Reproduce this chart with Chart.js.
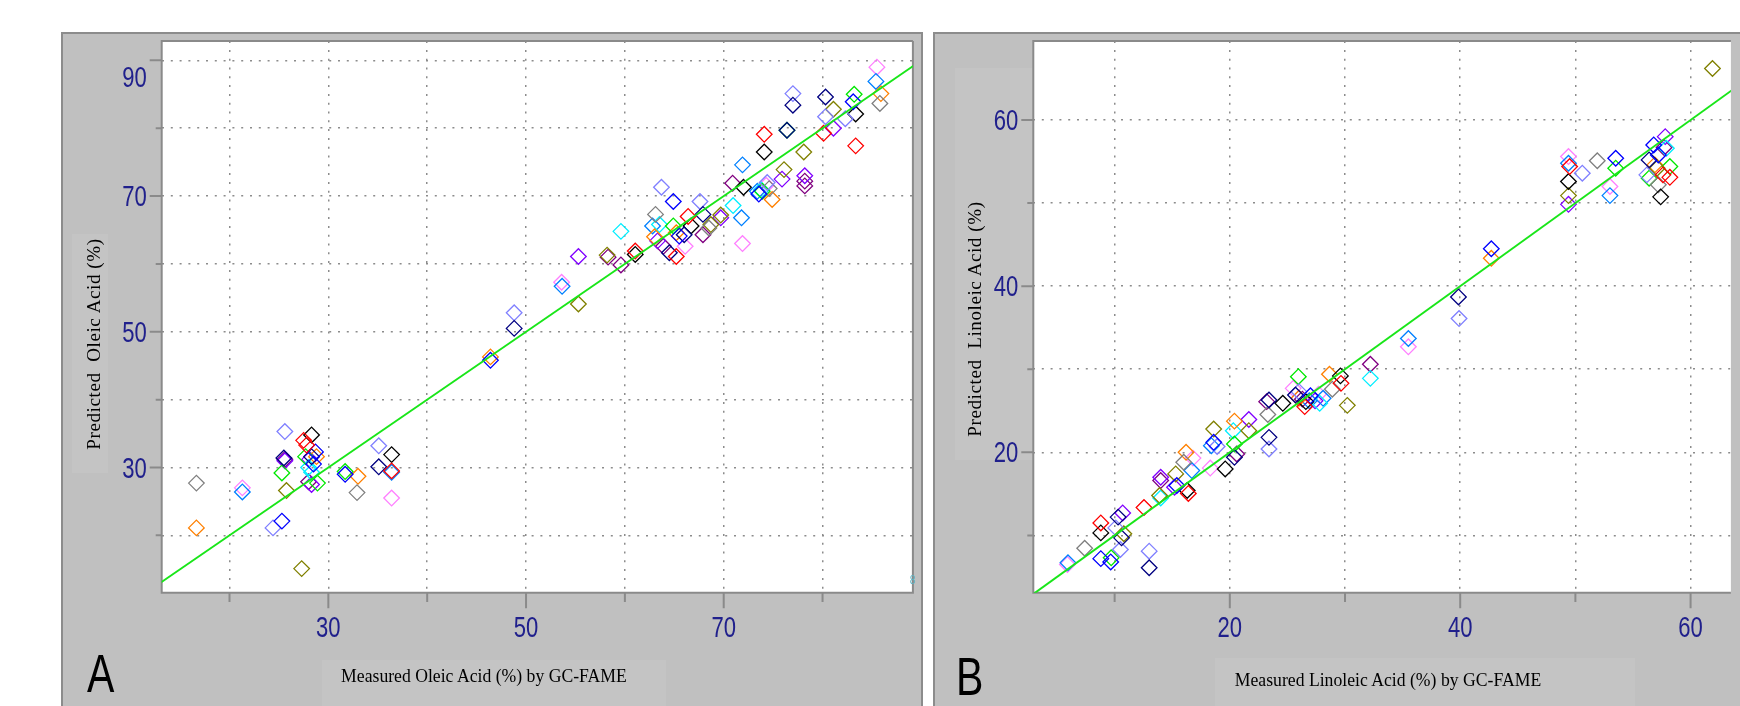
<!DOCTYPE html>
<html lang="en">
<head>
<meta charset="UTF-8">
<title>Predicted vs measured oleic and linoleic acid</title>
<script src="https://cdn.jsdelivr.net/npm/chart.js"></script>
<style>
  body { margin: 0; background: #fff; width: 1740px; height: 706px; position: relative; overflow: hidden; }
  .panel { position: absolute; background: #c0c0c0; box-sizing: border-box; border: 2px solid #8c8c8c; border-bottom: none; }
  #panelA { left: 61px; top: 32px; width: 862px; height: 674px; }
  #panelB { left: 933px; top: 32px; width: 820px; height: 674px; border-right: none; }
  .patch { position: absolute; background: #c4c4c4; }
  canvas { position: absolute; }
  #chartA { left: 61px; top: 32px; }
  #chartB { left: 933px; top: 32px; }
  .big { position: absolute; font-family: 'Liberation Sans', Arial, sans-serif; font-size: 54px; line-height: 54px; color: #000; transform: scaleX(0.76); transform-origin: left center; }
  .ttl { position: absolute; font-family: 'Liberation Serif', 'Times New Roman', serif; font-size: 19px; line-height: 20px; color: #000; white-space: nowrap; text-align: center; width: 400px; }
  .xtl { transform: scaleX(0.93); }
  .ytl { width: 300px; letter-spacing: 0.6px; transform: rotate(-90deg); }
  .tiny { position: absolute; font-family: 'Liberation Sans', sans-serif; font-size: 13px; color: #5fb3c3; transform: scaleX(0.8); }
</style>
</head>
<body>
<div class="panel" id="panelA"></div>
<div class="panel" id="panelB"></div>
<div class="patch" style="left:72px;top:234px;width:36px;height:239px"></div>
<div class="patch" style="left:322px;top:660px;width:344px;height:46px"></div>
<div class="patch" style="left:955px;top:68px;width:78px;height:392px"></div>
<div class="patch" style="left:1215px;top:658px;width:420px;height:48px"></div>

<canvas id="chartA" width="861" height="674"></canvas>
<canvas id="chartB" width="807" height="674"></canvas>

<div class="ttl ytl" style="left:-56px;top:334px">Predicted&nbsp; Oleic Acid (%)</div>
<div class="ttl ytl" style="left:825px;top:309px">Predicted&nbsp; Linoleic Acid (%)</div>
<div class="ttl xtl" style="left:284px;top:666px">Measured Oleic Acid (%) by GC-FAME</div>
<div class="ttl xtl" style="left:1188px;top:670px">Measured Linoleic Acid (%) by GC-FAME</div>
<div class="big" style="left:87px;top:646px">A</div>
<div class="big" style="left:956px;top:649px">B</div>
<div class="tiny" style="left:909px;top:572px">8</div>

<script>
// ---- panel A : oleic acid, measured (x) vs predicted (y)
const oleicRed = [[27.5, 34.0], [27.8, 33.3], [36.4, 29.5], [61.05, 61.9], [66.4, 67.0], [65.2, 61.1], [74.1, 79.1], [80.1, 79.25], [83.35, 77.4]];
const oleicBlue = [[25.3, 22.1], [28.7, 32.3], [28.5, 30.5], [31.7, 29.0], [46.4, 45.8], [64.9, 69.2], [65.5, 64.1], [73.55, 70.3], [83.1, 83.9]];
const oleicNavy = [[25.5, 31.4], [28.3, 31.6], [35.1, 30.1], [48.8, 50.5], [64.5, 61.65], [66.0, 64.3], [67.9, 67.3], [76.4, 79.7], [77.0, 83.4], [80.3, 84.6]];
const oleicLavender = [[24.4, 21.1], [25.6, 35.3], [35.1, 33.2], [48.8, 52.8], [63.7, 71.3], [67.6, 69.2], [74.4, 72.0], [77.0, 85.1], [80.3, 81.7], [82.3, 81.4]];
const oleicBlack = [[28.3, 34.8], [36.4, 31.9], [61.05, 61.4], [66.7, 65.6], [72.0, 71.3], [74.1, 76.5], [83.35, 82.1]];
const oleicGray = [[16.65, 27.7], [32.9, 26.3], [63.1, 67.3], [68.5, 65.3], [74.6, 71.1], [85.8, 83.65]];
const oleicOlive = [[25.76, 26.6], [27.3, 15.1], [55.3, 54.1], [58.2, 61.3], [68.7, 65.8], [69.7, 67.2], [76.1, 73.9], [78.1, 76.5], [81.1, 82.8]];
const oleicGreen = [[25.3, 29.2], [27.7, 31.6], [28.9, 27.7], [31.7, 29.4], [64.9, 65.6], [73.9, 70.7], [76.4, 79.7], [83.2, 85.0]];
const oleicOrange = [[16.65, 21.1], [28.8, 31.6], [33.0, 28.7], [46.4, 46.3], [63.0, 64.0], [65.2, 64.6], [74.9, 69.5], [85.9, 85.1]];
const oleicCyan = [[28.0, 30.0], [28.3, 29.3], [59.6, 64.8], [63.5, 65.8], [70.95, 68.6], [73.8, 70.9]];
const oleicAzure = [[21.3, 26.4], [36.4, 29.3], [53.65, 56.7], [62.8, 65.6], [71.8, 66.8], [71.9, 74.6], [73.4, 70.7], [85.4, 86.9]];
const oleicViolet = [[25.6, 31.0], [28.1, 31.2], [28.3, 27.5], [55.3, 61.1], [63.3, 63.4], [69.7, 66.8], [75.9, 72.5], [78.2, 73.0], [81.1, 80.0]];
const oleicPink = [[21.3, 27.0], [36.4, 25.5], [53.6, 57.3], [66.1, 62.6], [71.9, 63.0], [74.3, 71.6], [85.5, 89.0]];
const oleicPurple = [[25.6, 31.2], [28.0, 27.9], [58.3, 61.0], [59.6, 59.85], [63.9, 62.6], [67.9, 64.3], [70.9, 71.9], [78.2, 72.2], [78.2, 71.5]];

// ---- panel B : linoleic acid
const linoRed = [[8.8, 11.5], [12.55, 13.35], [16.4, 15.05], [26.5, 25.5], [29.65, 28.3], [49.5, 54.4], [57.6, 53.4], [58.2, 53.1]];
const linoBlue = [[8.8, 7.2], [9.66, 6.8], [15.4, 16.0], [18.6, 21.2], [27.0, 26.8], [42.7, 44.5], [53.5, 55.4], [56.8, 57.0], [57.2, 55.8]];
const linoNavy = [[10.3, 12.2], [10.6, 9.7], [13.0, 6.1], [20.4, 19.4], [23.4, 21.8], [23.4, 26.3], [25.7, 26.9], [39.85, 38.7], [56.4, 55.2]];
const linoLavender = [[10.1, 10.9], [10.5, 8.3], [13.0, 8.1], [18.9, 20.7], [23.4, 20.4], [26.0, 27.3], [39.9, 36.1], [50.6, 53.6], [56.2, 53.4]];
const linoBlack = [[8.8, 10.3], [16.3, 15.4], [19.6, 18.0], [24.6, 25.9], [26.6, 26.1], [29.6, 29.2], [49.4, 52.6], [57.4, 50.75]];
const linoGray = [[7.4, 8.45], [16.0, 18.8], [23.3, 24.55], [28.9, 27.6], [51.9, 55.1], [57.2, 52.2]];
const linoOlive = [[10.8, 10.2], [13.9, 14.8], [15.3, 17.4], [18.6, 22.8], [21.65, 22.6], [30.2, 25.65], [49.4, 50.9], [57.1, 54.2], [61.9, 66.2]];
const linoGreen = [[9.7, 7.3], [20.4, 21.0], [25.95, 29.1], [53.5, 54.2], [56.4, 53.0], [58.2, 54.4]];
const linoOrange = [[16.2, 20.0], [20.4, 23.75], [26.0, 26.5], [28.65, 29.4], [42.7, 43.35], [56.9, 54.6]];
const linoCyan = [[14.0, 14.5], [20.3, 22.6], [27.8, 25.9], [32.2, 28.9], [57.9, 56.6]];
const linoAzure = [[5.95, 6.7], [16.7, 17.8], [18.4, 20.8], [26.9, 26.2], [28.1, 26.5], [35.5, 33.7], [49.4, 54.8], [53.0, 50.9]];
const linoViolet = [[10.7, 12.7], [14.0, 17.0], [15.2, 15.8], [21.65, 23.95], [27.4, 26.2], [49.4, 49.85], [57.8, 58.0]];
const linoPink = [[5.9, 6.5], [16.8, 19.3], [18.3, 18.1], [25.5, 27.7], [27.7, 27.0], [35.5, 32.7], [49.4, 55.6], [53.0, 52.0]];
const linoPurple = [[14.0, 16.6], [20.6, 19.8], [23.2, 26.1], [26.3, 26.4], [32.2, 30.6], [57.7, 56.7]];

// 1:1 reference line (measured = predicted)
const identityLine = [0, 100];

// labelled tick values
const oleicTicks = [30, 50, 70, 90];
const linoTicks = [20, 40, 60];

const colors = {
  red: '#ff0000', blue: '#0000ff', navy: '#000080', lavender: '#8080ff', black: '#000000',
  gray: '#808080', olive: '#808000', green: '#00e800', orange: '#ff8000', cyan: '#00eeff',
  azure: '#0080ff', violet: '#8000ff', pink: '#ff80ff', purple: '#800080'
};

const oleicGroups = [['red', oleicRed], ['blue', oleicBlue], ['navy', oleicNavy], ['lavender', oleicLavender],
  ['black', oleicBlack], ['gray', oleicGray], ['olive', oleicOlive], ['green', oleicGreen], ['orange', oleicOrange],
  ['cyan', oleicCyan], ['azure', oleicAzure], ['violet', oleicViolet], ['pink', oleicPink], ['purple', oleicPurple]];
const linoGroups = [['red', linoRed], ['blue', linoBlue], ['navy', linoNavy], ['lavender', linoLavender],
  ['black', linoBlack], ['gray', linoGray], ['olive', linoOlive], ['green', linoGreen], ['orange', linoOrange],
  ['cyan', linoCyan], ['azure', linoAzure], ['violet', linoViolet], ['pink', linoPink], ['purple', linoPurple]];

const labelFont = "29px 'Liberation Sans', Arial, sans-serif";
const labelColor = '#20208c';

// white plot area, frame, tick marks and the narrow tick labels
const framePlugin = {
  id: 'frame',
  beforeDraw(chart) {
    const { ctx, chartArea: a } = chart;
    ctx.save();
    ctx.fillStyle = '#fff';
    ctx.fillRect(a.left, a.top, a.right - a.left, a.bottom - a.top);
    ctx.restore();
  },
  beforeDatasetsDraw(chart, args, opts) {
    const { ctx, chartArea: a, scales } = chart;
    ctx.save();
    ctx.strokeStyle = '#8a8a8a';
    ctx.lineWidth = 2;
    ctx.beginPath();
    ctx.moveTo(a.right, a.top);
    ctx.lineTo(a.left, a.top);
    ctx.lineTo(a.left, a.bottom);
    ctx.lineTo(a.right, a.bottom);
    if (opts.right) ctx.lineTo(a.right, a.top);
    scales.x.ticks.forEach(t => {
      const px = scales.x.getPixelForValue(t.value);
      const len = opts.labels.includes(t.value) ? 15.5 : 9.3;
      ctx.moveTo(px, a.bottom);
      ctx.lineTo(px, a.bottom + len);
    });
    scales.y.ticks.forEach(t => {
      const py = scales.y.getPixelForValue(t.value);
      const len = opts.labels.includes(t.value) ? 12 : 6;
      ctx.moveTo(a.left, py);
      ctx.lineTo(a.left - len, py);
    });
    ctx.stroke();

    ctx.font = labelFont;
    ctx.fillStyle = labelColor;
    ctx.textBaseline = 'alphabetic';
    scales.x.ticks.forEach(t => {
      if (!opts.labels.includes(t.value)) return;
      ctx.save();
      ctx.translate(scales.x.getPixelForValue(t.value), a.bottom + 44.3);
      ctx.scale(0.76, 1);
      ctx.textAlign = 'center';
      ctx.fillText(String(t.value), 0, 0);
      ctx.restore();
    });
    scales.y.ticks.forEach(t => {
      if (!opts.labels.includes(t.value)) return;
      // the top label is pushed below its grid line
      const drop = t.value === opts.shiftTop ? 26.6 : 10;
      ctx.save();
      ctx.translate(a.left - 15, scales.y.getPixelForValue(t.value) + drop);
      ctx.scale(0.76, 1);
      ctx.textAlign = 'right';
      ctx.fillText(String(t.value), 0, 0);
      ctx.restore();
    });
    ctx.restore();
  }
};

function onlyTens(scale) {
  scale.ticks = scale.ticks.filter(t => Math.abs(t.value / 10 - Math.round(t.value / 10)) < 1e-9);
}

function makeAxis(min, max, isY, fitSize) {
  return {
    type: 'linear',
    min: min,
    max: max,
    afterBuildTicks: onlyTens,
    afterFit(scale) {
      if (isY) scale.width = fitSize; else scale.height = fitSize;
      scale.paddingTop = 0; scale.paddingBottom = 0;
      scale.paddingLeft = 0; scale.paddingRight = 0;
    },
    ticks: { stepSize: 10, includeBounds: false, display: false },
    grid: { color: '#8c8c8c', lineWidth: 1.5, drawTicks: false },
    border: { display: false, dash: [2, 6.8] }
  };
}

function makeChart(id, groups, xr, yr, labels, yFit, rightPad, shiftTop, frameRight) {
  const datasets = [{
    type: 'line',
    label: 'y = x',
    data: identityLine.map(v => ({ x: v, y: v })),
    borderColor: '#19e619',
    borderWidth: 2,
    pointRadius: 0,
    fill: false
  }];
  groups.forEach(([name, pts]) => {
    datasets.push({
      type: 'scatter',
      label: name,
      data: pts.map(p => ({ x: p[0], y: p[1] })),
      pointStyle: 'rectRot',
      pointRadius: 7.8,
      borderColor: colors[name],
      backgroundColor: 'rgba(0,0,0,0)',
      borderWidth: 1.3
    });
  });
  return new Chart(document.getElementById(id), {
    type: 'scatter',
    data: { datasets: datasets },
    plugins: [framePlugin],
    options: {
      responsive: false,
      animation: false,
      devicePixelRatio: 1,
      layout: { padding: { left: 0, top: 5.3, right: rightPad, bottom: 0 } },
      scales: {
        x: makeAxis(xr[0], xr[1], false, 113.3),
        y: makeAxis(yr[0], yr[1], true, yFit)
      },
      plugins: {
        legend: { display: false },
        tooltip: { enabled: false },
        frame: { right: frameRight, labels: labels, shiftTop: shiftTop }
      }
    }
  });
}

makeChart('chartA', oleicGroups, [13.14, 89.14], [11.55, 92.84], oleicTicks, 100.7, 3.7, 90, true);
makeChart('chartB', linoGroups, [2.94, 63.5], [3.1, 69.5], linoTicks, 100.3, 0, null, false);
</script>
</body>
</html>
